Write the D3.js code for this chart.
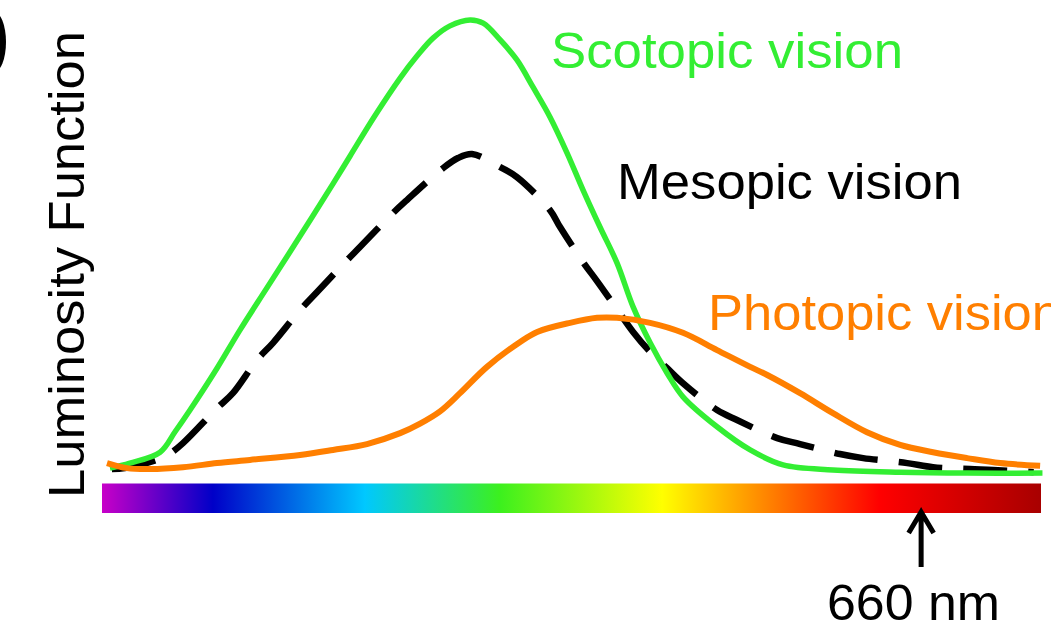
<!DOCTYPE html>
<html>
<head>
<meta charset="utf-8">
<script src="https://cdn.jsdelivr.net/npm/d3@7"></script>
<style>
  html, body { margin: 0; padding: 0; background: #fff; overflow: hidden; }
  svg { display: block; font-family: "Liberation Sans", Arial, sans-serif; }
</style>
</head>
<body>
<svg id="chart" width="1051" height="631"></svg>
<script>
// ---- data (wavelength nm, relative luminosity) ----
const scotopicNm  = [382.7, 389.5, 399.8, 404.9, 410.0, 419.2, 427.0, 436.2, 447.5, 458.7, 464.5, 473.0, 481.6, 487.4, 492.8, 498.6, 505.4, 509.9, 515.7, 521.4, 526.9, 532.7, 538.5, 543.9, 549.7, 555.5, 561.0, 566.8, 572.6, 578.0, 589.6, 600.9, 612.1, 629.1, 652.0, 674.8, 700.5];
const scotopicVal = [0.013, 0.024, 0.048, 0.093, 0.141, 0.233, 0.317, 0.410, 0.524, 0.639, 0.700, 0.789, 0.872, 0.921, 0.960, 0.987, 1.000, 0.993, 0.956, 0.912, 0.852, 0.786, 0.707, 0.626, 0.544, 0.465, 0.368, 0.289, 0.222, 0.170, 0.104, 0.053, 0.020, 0.009, 0.004, 0.002, 0.002];

const mesopicNm  = [383.4, 387.8, 398.7, 402.5, 407.6, 419.2, 424.6, 432.8, 438.3, 447.5, 453.3, 463.5, 467.9, 479.2, 484.0, 495.9, 501.3, 506.1, 515.7, 521.4, 532.7, 536.1, 543.9, 548.7, 555.5, 561.0, 566.8, 572.6, 578.0, 589.6, 596.4, 610.1, 617.9, 631.5, 639.4, 654.4, 663.2, 675.8, 683.7, 697.5];
const mesopicVal = [0.011, 0.013, 0.031, 0.042, 0.068, 0.145, 0.178, 0.251, 0.289, 0.361, 0.401, 0.471, 0.500, 0.575, 0.604, 0.672, 0.696, 0.705, 0.676, 0.654, 0.581, 0.544, 0.467, 0.425, 0.363, 0.313, 0.269, 0.233, 0.200, 0.141, 0.119, 0.079, 0.066, 0.044, 0.035, 0.024, 0.015, 0.011, 0.009, 0.004];

const photopicNm  = [381.7, 388.5, 396.4, 407.6, 419.2, 430.4, 447.5, 458.7, 470.3, 481.6, 488.4, 495.2, 502.0, 511.2, 522.5, 528.3, 539.5, 548.7, 555.5, 566.8, 578.0, 589.6, 600.9, 606.7, 617.9, 629.1, 640.7, 652.0, 663.2, 674.8, 686.1, 699.7];
const photopicVal = [0.024, 0.013, 0.011, 0.015, 0.024, 0.031, 0.042, 0.053, 0.066, 0.090, 0.111, 0.138, 0.178, 0.236, 0.291, 0.313, 0.333, 0.344, 0.344, 0.333, 0.311, 0.273, 0.236, 0.218, 0.178, 0.134, 0.092, 0.064, 0.048, 0.035, 0.024, 0.018];

const seriesNames  = ["Scotopic vision", "Mesopic vision", "Photopic vision"];
const spectrumNm     = [380, 417.8, 469.6, 515.6, 570.9, 644.9, 700];
const spectrumColors = ["#c800c8", "#0000c8", "#00c8ff", "#3cf01e", "#ffff00", "#ff0000", "#a80000"];
const markerNm = 660;
const markerLabel = "660 nm";
const yLabel = "Luminosity Function";

// ---- layout ----
const svg = d3.select("#chart");
const x = d3.scaleLinear().domain([380, 700]).range([102, 1041]);
const y = d3.scaleLinear().domain([0, 1]).range([474, 20]);

const line = d3.line().x(d => x(d[0])).y(d => y(d[1])).curve(d3.curveCatmullRom.alpha(0.5));
const zip = (a, b) => a.map((v, i) => [v, b[i]]);

// panel letter fragment at top-left
svg.append("ellipse").attr("cx", -6).attr("cy", 42).attr("rx", 12).attr("ry", 30).attr("fill", "#000");

// spectrum bar
const defs = svg.append("defs");
const grad = defs.append("linearGradient").attr("id", "spec")
  .attr("gradientUnits", "userSpaceOnUse")
  .attr("x1", x(380)).attr("x2", x(700)).attr("y1", 0).attr("y2", 0);
grad.selectAll("stop").data(spectrumNm).join("stop")
  .attr("offset", d => (x(d) - x(380)) / (x(700) - x(380)))
  .attr("stop-color", (d, i) => spectrumColors[i]);
svg.append("rect").attr("x", x(380)).attr("y", 483.5)
  .attr("width", x(700) - x(380)).attr("height", 29.5).attr("fill", "url(#spec)");

// curves
svg.append("path").datum(zip(mesopicNm, mesopicVal)).attr("d", line)
  .attr("fill", "none").attr("stroke", "#000").attr("stroke-width", 6.5)
  .attr("stroke-dasharray", "44,21");
svg.append("path").datum(zip(scotopicNm, scotopicVal)).attr("d", line)
  .attr("fill", "none").attr("stroke", "#33ee33").attr("stroke-width", 5.5);
svg.append("path").datum(zip(photopicNm, photopicVal)).attr("d", line)
  .attr("fill", "none").attr("stroke", "#ff7f00").attr("stroke-width", 6);

// labels
const fs = 50;
svg.append("text").attr("x", 551).attr("y", 68).attr("font-size", fs)
  .attr("fill", "#33ee33").attr("textLength", 352).attr("lengthAdjust", "spacingAndGlyphs")
  .text(seriesNames[0]);
svg.append("text").attr("x", 617).attr("y", 199).attr("font-size", fs)
  .attr("fill", "#000").attr("textLength", 345).attr("lengthAdjust", "spacingAndGlyphs")
  .text(seriesNames[1]);
svg.append("text").attr("x", 708).attr("y", 330).attr("font-size", fs)
  .attr("fill", "#ff7f00").attr("textLength", 353).attr("lengthAdjust", "spacingAndGlyphs")
  .text(seriesNames[2]);

// y label
svg.append("text").attr("transform", "translate(84,264.5) rotate(-90)")
  .attr("text-anchor", "middle").attr("font-size", fs).attr("fill", "#000")
  .attr("textLength", 467).attr("lengthAdjust", "spacingAndGlyphs")
  .text(yLabel);

// marker arrow
const mx = x(markerNm) - 2.5;
svg.append("path")
  .attr("d", `M${mx},567 L${mx},513 M${mx - 12.5},533 L${mx},512 L${mx + 12.5},533`)
  .attr("fill", "none").attr("stroke", "#000").attr("stroke-width", 5)
  .attr("stroke-linejoin", "miter").attr("stroke-linecap", "butt");
svg.append("text").attr("x", 913.5).attr("y", 620).attr("font-size", fs)
  .attr("text-anchor", "middle").attr("fill", "#000")
  .attr("textLength", 173).attr("lengthAdjust", "spacingAndGlyphs")
  .text(markerLabel);
</script>
</body>
</html>
